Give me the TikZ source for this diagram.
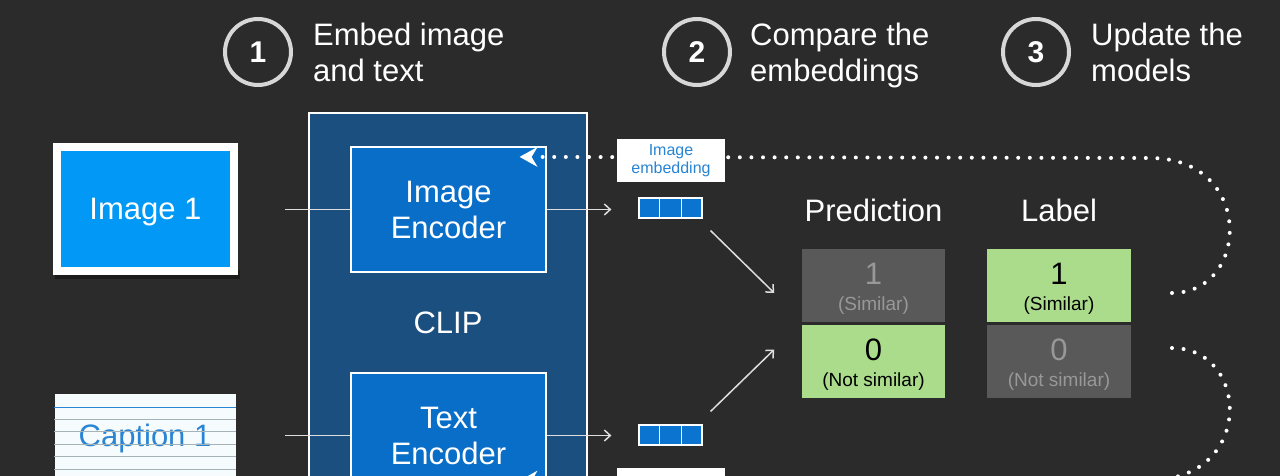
\documentclass[tikz,border=0pt]{standalone}
\usepackage{fontspec}
\setmainfont{Liberation Sans}
\usepackage{xcolor}
\usepackage{tikz}
\usetikzlibrary{positioning,arrows.meta,calc}

\definecolor{bgdark}{RGB}{43,43,43}
\definecolor{imgblue}{RGB}{2,153,246}
\definecolor{clipblue}{RGB}{26,79,128}
\definecolor{encblue}{RGB}{9,110,200}
\definecolor{vecblue}{RGB}{10,116,208}
\definecolor{capblue}{RGB}{40,132,212}
\definecolor{rulegray}{RGB}{165,178,184}
\definecolor{paper}{RGB}{246,251,253}
\definecolor{okgreen}{RGB}{170,220,140}
\definecolor{cellgray}{RGB}{89,89,89}
\definecolor{dimtext}{RGB}{152,152,152}
\definecolor{linegray}{RGB}{222,222,222}
\definecolor{ringgray}{RGB}{215,215,215}

\newcommand{\bigsize}{\fontsize{31}{36}\selectfont}
\newcommand{\smallsize}{\fontsize{19}{22}\selectfont}
\newcommand{\digit}[1]{{\bigsize\rule{0pt}{28pt}#1}}

\begin{document}
\begin{tikzpicture}[
  x=1pt,y=-1pt,
  font=\bigsize,text=white,
  stepcirc/.style={circle,draw=ringgray,line width=4pt,minimum size=66pt,inner sep=0pt,font=\fontsize{30}{30}\selectfont\bfseries},
  steptxt/.style ={anchor=west,align=left,inner sep=0pt},
  imgbox/.style  ={draw=white,line width=8pt,fill=imgblue,minimum width=177pt,minimum height=124pt,inner sep=0pt,text depth=0pt},
  paper/.style   ={fill=paper,minimum width=181pt,minimum height=132pt,inner sep=0pt},
  clipbox/.style ={draw=white,line width=1.2pt,fill=clipblue,minimum width=278pt,minimum height=420pt,inner sep=0pt},
  encoder/.style ={draw=white,line width=1.2pt,fill=encblue,minimum width=195pt,minimum height=125pt,align=center,inner sep=0pt},
  vec/.style     ={draw=white,line width=1.2pt,fill=vecblue,minimum width=63pt,minimum height=20pt,inner sep=0pt},
  embtag/.style  ={fill=white,minimum width=108pt,minimum height=43pt,align=center,text=capblue,font=\fontsize{16}{18}\selectfont,inner sep=0pt},
  cell/.style    ={draw=bgdark,line width=1.5pt,minimum width=145pt,minimum height=74.5pt,align=center,inner sep=0pt,font=\smallsize},
  link/.style    ={line width=1.5pt,linegray},
  arrow/.style   ={-{Straight Barb[length=6pt,width=11pt]},line width=1.5pt,linegray},
  feed/.style    ={white,line width=4pt,line cap=round,dash pattern=on 0pt off 11.6pt}
]
\useasboundingbox (0,0) rectangle (1280,476);
\fill[bgdark] (0,0) rectangle (1280,476);
\clip (0,0) rectangle (1280,476);
% three steps along the top
\node[stepcirc] (c1) at (258,52)  {1};
\node[steptxt]  (s1) at (313,52)  {Embed image\\and text};
\node[stepcirc] (c2) at (697,52)  {2};
\node[steptxt]  (s2) at (750,55)  {Compare the\\embeddings};
\node[stepcirc] (c3) at (1036,52) {3};
\node[steptxt]  (s3) at (1091,52) {Update the\\models};
% inputs
\fill[black,opacity=0.35] (55,270) rectangle (240,279);
\node[imgbox] (img) at (145.5,209) {Image 1};
\node[paper]  (cap) at (145,460) {};
\node[text=capblue,text depth=0pt] (captxt) at (145,435) {Caption 1};
\draw[capblue,line width=1pt] (cap.west |- 0,407) -- (cap.east |- 0,407);
\foreach \y in {419,431.5,444,456.5,469}
  \draw[rulegray,line width=1pt] (cap.west |- 0,\y) -- (cap.east |- 0,\y);
% CLIP and its encoders
\node[clipbox] (clip) at (448,323)     {CLIP};
\node[encoder] (ienc) at (448.5,209.5) {Image\\Encoder};
\node[encoder] (tenc) at (448.5,435.5) {Text\\Encoder};
\coordinate (in1) at (285,209.5);
\coordinate (in2) at (285,435.5);
\draw[link] (in1) -- (ienc.west);
\draw[link] (in2) -- (tenc.west);
% embedding vectors
\node[vec] (ivec) at (670.5,208) {};
\node[vec] (tvec) at (670.5,435) {};
\foreach \v in {ivec,tvec} {
  \draw[white,line width=1.2pt] ($(\v.north west)!1/3!(\v.north east)$) -- ($(\v.south west)!1/3!(\v.south east)$);
  \draw[white,line width=1.2pt] ($(\v.north west)!2/3!(\v.north east)$) -- ($(\v.south west)!2/3!(\v.south east)$);
}
\draw[arrow] (ienc.east) -- ($(ienc.east -| ivec.west)+(-27,0)$);
\draw[arrow] (tenc.east) -- ($(tenc.east -| tvec.west)+(-27,0)$);
% prediction vs label
\node[cell,fill=cellgray,text=dimtext] (pred1) at (873.5,285) {\digit{1}\\[4pt](Similar)};
\node[cell,fill=okgreen,text=black,below=0pt of pred1] (pred0) {\digit{0}\\[4pt](Not similar)};
\node[cell,fill=okgreen,text=black,right=39pt of pred1] (lab1) {\digit{1}\\[4pt](Similar)};
\node[cell,fill=cellgray,text=dimtext,below=0pt of lab1] (lab0) {\digit{0}\\[4pt](Not similar)};
\node (predhd) at (pred1 |- 0,210) {Prediction};
\node (labhd)  at (lab1 |- 0,210)  {Label};
\draw[arrow] ($(ivec.south east)+(8,12)$)  -- ($(pred1.west)+(-26,8)$);
\draw[arrow] ($(tvec.north east)+(8,-13)$) -- ($(pred0.west)+(-26,-11.5)$);
% feedback to the encoders
\coordinate (ret1) at (1172,293);
\coordinate (ret0) at (1172,348);
\draw[feed,-{Stealth[length=18pt,width=20pt,inset=6pt,line width=0pt]}]
  (ret1) .. controls (1250,293) and (1255,158) .. (1150,158) -- ($(ienc.north east)+(-27,10.5)$);
\draw[feed,-{Stealth[length=18pt,width=20pt,inset=6pt,line width=0pt]}]
  (ret0) .. controls (1250,348) and (1255,480) .. (1150,480) -- ($(tenc.south east)+(-27,-18)$);
\node[embtag] (itag) at (671,160.5) {Image\\embedding};
\node[embtag] (ttag) at (671,489.5) {};
\end{tikzpicture}
\end{document}
